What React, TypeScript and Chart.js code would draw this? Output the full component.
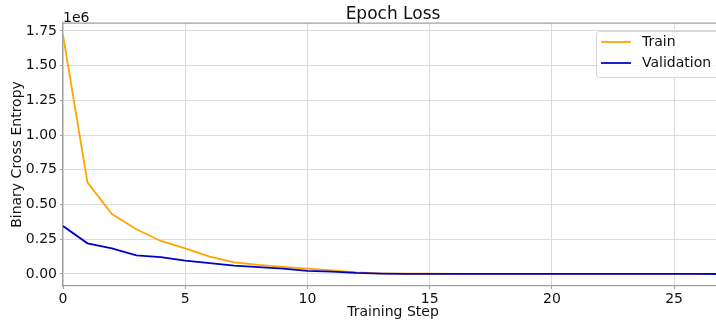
import React, { useEffect, useRef } from "react";
import { Chart, registerables } from "chart.js";

Chart.register(...registerables);

const steps = [0, 1, 2, 3, 4, 5, 6, 7, 8, 9, 10, 11, 12, 13, 14, 15, 16, 17, 18, 19, 20, 21, 22, 23, 24, 25, 26, 27];
const trainLoss = [1720000, 660000, 432000, 322000, 238000, 185000, 125000, 84000, 66000, 52000, 38000, 26000, 12000, 5000, 3000, 2000, 1500, 1200, 1000, 900, 800, 700, 600, 500, 400, 350, 300, 250];
const valLoss = [345000, 221000, 185000, 134000, 122000, 96000, 79000, 60000, 50000, 38000, 22000, 17000, 8000, 3000, 1500, 1000, 800, 700, 600, 500, 450, 400, 350, 300, 250, 200, 180, 150];
const yTicks = [0, 250000, 500000, 750000, 1000000, 1250000, 1500000, 1750000];
const xTicks = [0, 5, 10, 15, 20, 25];
const seriesNames = ["Train", "Validation"];
const seriesColors = ["#FFA500", "#0000CD"];
const chartTitle = "Epoch Loss";
const xTitle = "Training Step";
const yTitle = "Binary Cross Entropy";
const offsetText = "1e6";

const FONT = "'DejaVu Sans', sans-serif";

const decorPlugin = {
  id: "decor",
  afterDraw(chart: any) {
    const { ctx, chartArea } = chart;
    ctx.save();
    // top spine
    ctx.strokeStyle = "#a0a0a0";
    ctx.lineWidth = 1.25;
    ctx.beginPath();
    ctx.moveTo(chartArea.left, chartArea.top);
    ctx.lineTo(chartArea.right, chartArea.top);
    ctx.moveTo(chartArea.right, chartArea.top);
    ctx.lineTo(chartArea.right, chartArea.bottom);
    ctx.stroke();
    // title
    ctx.fillStyle = "#111";
    ctx.font = `17px ${FONT}`;
    ctx.textAlign = "center";
    ctx.textBaseline = "alphabetic";
    ctx.fillText(chartTitle, (chartArea.left + chartArea.right) / 2, 18.5);
    // offset text
    ctx.font = `14px ${FONT}`;
    ctx.textAlign = "left";
    ctx.fillText(offsetText, chartArea.left, 21.5);
    // legend
    const lx = 596, ly = 31, lw = 140, lh = 46;
    ctx.fillStyle = "rgba(255,255,255,0.8)";
    ctx.strokeStyle = "rgba(204,204,204,0.8)";
    ctx.lineWidth = 1;
    ctx.beginPath();
    ctx.roundRect(lx + 0.5, ly + 0.5, lw, lh, 3);
    ctx.fill();
    ctx.stroke();
    chart.data.datasets.forEach((ds: any, i: number) => {
      const yy = 42 + i * 21;
      ctx.strokeStyle = ds.borderColor;
      ctx.lineWidth = 1.75;
      ctx.beginPath();
      ctx.moveTo(601, yy);
      ctx.lineTo(631, yy);
      ctx.stroke();
      ctx.fillStyle = "#111";
      ctx.font = `14px ${FONT}`;
      ctx.textBaseline = "middle";
      ctx.textAlign = "left";
      ctx.fillText(ds.label, 642, yy);
    });
    ctx.restore();
  },
};

export default function App() {
  const ref = useRef<HTMLCanvasElement>(null);
  useEffect(() => {
    if (!ref.current) return;
    const mk = (vals: number[]) => steps.map((s, i) => ({ x: s, y: vals[i] }));
    const chart = new Chart(ref.current, {
      type: "line",
      data: {
        datasets: [
          { label: seriesNames[0], data: mk(trainLoss), borderColor: seriesColors[0], backgroundColor: seriesColors[0], borderWidth: 1.8, pointRadius: 0, tension: 0, order: 1 },
          { label: seriesNames[1], data: mk(valLoss), borderColor: seriesColors[1], backgroundColor: seriesColors[1], borderWidth: 1.8, pointRadius: 0, tension: 0, order: 0 },
        ],
      },
      options: {
        responsive: false,
        animation: false,
        devicePixelRatio: 1,
        layout: { padding: { top: 23, right: 0, left: 0, bottom: 0 } },
        plugins: { legend: { display: false }, title: { display: false }, tooltip: { enabled: false } },
        scales: {
          x: {
            type: "linear",
            min: 0,
            max: 27,
            afterBuildTicks: (s: any) => { s.ticks = xTicks.map((v) => ({ value: v })); },
            afterFit: (s: any) => { s.height = 35; },
            grid: { color: "#dcdcdc", lineWidth: 1, drawTicks: true, tickLength: 3, tickColor: "#a0a0a0" },
            border: { color: "#a0a0a0", width: 1.25 },
            ticks: { color: "#111", font: { family: FONT, size: 14 }, padding: 2, maxRotation: 0 },
            title: { display: true, text: xTitle, color: "#111", font: { family: FONT, size: 14 }, padding: { top: 0, bottom: 0 } },
          },
          y: {
            type: "linear",
            min: -86400,
            max: 1807000,
            afterBuildTicks: (s: any) => { s.ticks = yTicks.map((v) => ({ value: v })); },
            afterFit: (s: any) => { s.width = 63; },
            grid: { color: "#dcdcdc", lineWidth: 1, drawTicks: true, tickLength: 3, tickColor: "#a0a0a0" },
            border: { color: "#a0a0a0", width: 1.25 },
            ticks: { color: "#111", font: { family: FONT, size: 14 }, padding: 3, callback: (v: any) => (Number(v) / 1e6).toFixed(2) },
            title: { display: true, text: yTitle, color: "#111", font: { family: FONT, size: 14 }, padding: { top: 9, bottom: 0 } },
          },
        },
      },
      plugins: [decorPlugin],
    });
    return () => chart.destroy();
  }, []);
  return (
    <div style={{ position: "fixed", left: 0, top: 0, width: 716, height: 321, overflow: "hidden", background: "#fff" }}>
      <canvas ref={ref} width={723} height={321} />
    </div>
  );
}
